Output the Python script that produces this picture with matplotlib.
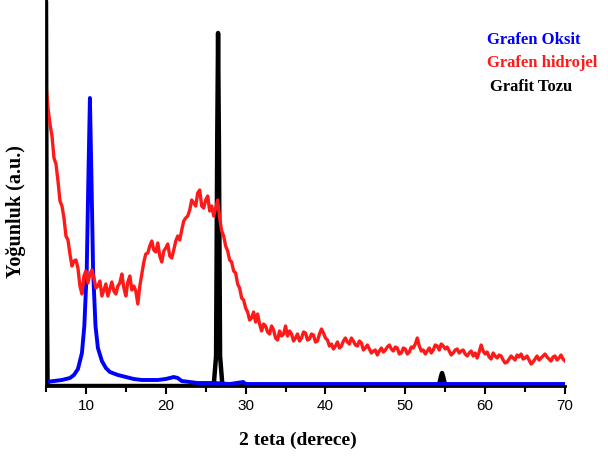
import numpy as np
import matplotlib
matplotlib.use('Agg')
import matplotlib.pyplot as plt
from matplotlib.ticker import MultipleLocator

# XRD verileri (yogunluk, keyfi birim), kirmizi: 0.25 derece adim
red_x = np.arange(5.0, 70.001, 0.25)
red_y = [301, 278, 262, 250, 228, 222, 205, 185, 180, 168, 150, 146, 132, 120, 125, 126,
         118, 100, 92, 110, 115, 103, 112, 116, 108, 98, 100, 105, 90, 96, 102, 90,
         97, 104, 95, 92, 100, 103, 112, 98, 90, 104, 110, 96, 100, 95, 82, 100,
         112, 124, 132, 133, 140, 145, 136, 134, 143, 130, 124, 135, 138, 142, 130, 128,
         136, 145, 150, 146, 156, 165, 168, 170, 176, 186, 183, 180, 193, 196, 180, 178,
         186, 190, 175, 180, 170, 178, 186, 168, 155, 150, 140, 135, 126, 124, 115, 113,
         102, 98, 88, 86, 78, 74, 66, 68, 74, 64, 72, 62, 55, 62, 60, 54,
         52, 60, 56, 48, 46, 55, 50, 52, 60, 50, 55, 52, 45, 48, 52, 45,
         48, 54, 53, 46, 47, 52, 51, 44, 45, 52, 57, 53, 48, 46, 40, 42,
         37, 40, 44, 38, 40, 45, 48, 44, 42, 48, 45, 41, 40, 45, 43, 36,
         38, 41, 37, 33, 35, 36, 31, 35, 38, 34, 36, 39, 41, 37, 35, 39,
         38, 32, 33, 38, 37, 32, 34, 39, 38, 42, 48, 40, 35, 36, 32, 35,
         38, 33, 36, 41, 40, 36, 42, 40, 37, 39, 35, 31, 33, 36, 37, 33,
         35, 36, 32, 30, 33, 35, 30, 33, 28, 34, 41, 35, 32, 34, 29, 27,
         33, 30, 28, 31, 30, 26, 23, 24, 27, 30, 28, 26, 31, 29, 32, 27,
         28, 30, 26, 22, 24, 27, 30, 26, 28, 30, 32, 29, 27, 25, 29, 30,
         26, 28, 31, 27, 25]

blue_x = [5, 6, 7, 8, 8.5, 9, 9.5, 9.8, 10.1, 10.3, 10.5, 10.7, 10.9, 11.2,
          11.5, 12, 12.5, 13, 14, 14.5, 15, 16, 17, 18, 19, 20, 21, 21.5,
          22, 23, 24, 26, 28, 29.7, 30, 35, 40, 50, 60, 70]
blue_y = [4, 5, 6, 8, 11, 17, 33, 60, 115, 205, 288, 205, 115, 60,
          38, 25, 18, 14, 11, 10, 9, 7, 6, 6, 6, 7, 9, 8,
          5, 4, 3, 3, 2, 4, 2, 2, 2, 2, 2, 2]

black_x = [5.0, 5.08, 5.2, 10, 20, 26.0, 26.3, 26.45, 26.55, 26.65, 26.8, 27.1,
           40, 54.2, 54.45, 54.6, 54.75, 55.0, 70]
black_y = [383, 120, 0, 0, 0, 0, 30, 250, 353, 250, 30, 0,
           0, 0, 9, 13, 9, 0, 0]

labels = ['Grafen Oksit', 'Grafen hidrojel', 'Grafit Tozu']
colors = ['#0000ff', '#ff1a1a', 'black']

fig = plt.figure(figsize=(6.08, 4.57), dpi=100)
ax = fig.add_axes([46 / 608, (457 - 386) / 457, (565 - 46) / 608, 386 / 457])

ax.plot(black_x, black_y, color='black', lw=3.2, solid_joinstyle='round')
ax.plot(blue_x, blue_y, color=colors[0], lw=2.8, solid_joinstyle='round')
ax.plot(red_x, red_y, color=colors[1], lw=2.4, solid_joinstyle='round')

ax.set_xlim(5, 70)
ax.set_ylim(0, 386)
ax.spines['top'].set_visible(False)
ax.spines['right'].set_visible(False)
ax.spines['left'].set_linewidth(2)
ax.spines['bottom'].set_linewidth(2)
ax.set_yticks([])
ax.xaxis.set_major_locator(MultipleLocator(10))
ax.xaxis.set_minor_locator(MultipleLocator(5))
ax.tick_params(axis='x', which='major', length=6, width=1.5, direction='out',
               labelsize=11, pad=3)
ax.tick_params(axis='x', which='minor', length=4, width=1.5, direction='out')
for t in ax.get_xticklabels():
    t.set_fontfamily('Liberation Sans')

fig.text(298 / 608, 1 - 440 / 457, '2 teta (derece)', ha='center', va='center',
         fontsize=14, fontweight='bold', family='Liberation Serif')
fig.text(16 / 608, 1 - 212 / 457, 'Yoğunluk (a.u.)', ha='center', va='center',
         rotation=90, fontsize=14.5, fontweight='bold', family='Liberation Serif')

ys = [40, 63, 87]
xs = [487, 487, 490]
for lab, c, x, y in zip(labels, colors, xs, ys):
    fig.text(x / 608, 1 - y / 457, lab, color=c, ha='left', va='center',
             fontsize=12, fontweight='bold', family='Liberation Serif')

fig.savefig('out.png', dpi=100)
